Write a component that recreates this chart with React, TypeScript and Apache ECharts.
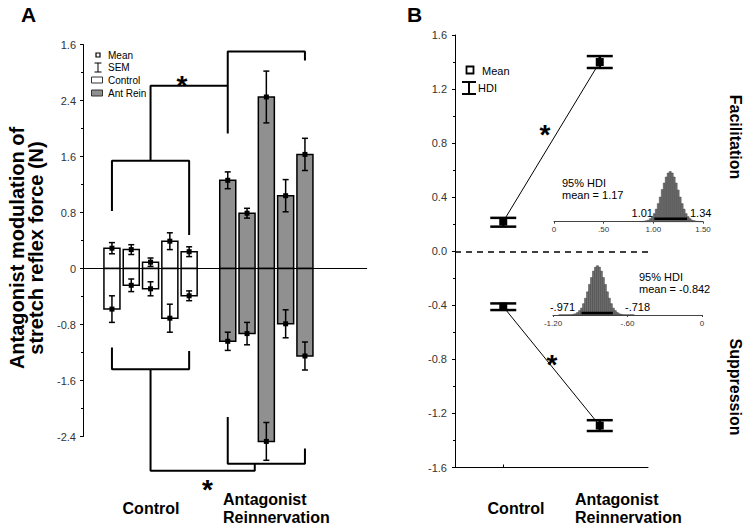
import React, { useEffect, useRef } from 'react';
import * as echarts from 'echarts';

// ---------- Panel A data ----------
const panelATickLabels = ['-2.4', '-1.6', '-0.8', '0', '0.8', '1.6', '2.4', '1.6'];
const controlX = [0, 1, 2, 3, 4];
const antX = [6, 7, 8, 9, 10];
const controlFac = [0.29, 0.27, 0.09, 0.39, 0.24];
const controlFacSem = [0.08, 0.07, 0.06, 0.12, 0.07];
const controlSup = [-0.58, -0.24, -0.29, -0.71, -0.39];
const controlSupSem = [0.19, 0.09, 0.1, 0.2, 0.07];
const antFac = [1.26, 0.79, 2.45, 1.04, 1.63];
const antFacSem = [0.12, 0.07, 0.37, 0.23, 0.23];
const antSup = [-1.04, -0.93, -2.47, -0.79, -1.25];
const antSupSem = [0.13, 0.16, 0.27, 0.2, 0.2];

// significance brackets (data coordinates)
const bracketCtrlTop = [[0, 0.82], [0, 1.54], [4, 1.54], [4, 0.48]];
const bracketStemTop = [[2, 1.54], [2, 2.61], [6, 2.61]];
const bracketAntTop = [[6, 1.93], [6, 3.1], [10, 3.1], [10, 2.97]];
const bracketCtrlBot = [[0, -1.13], [0, -1.44], [4, -1.44], [4, -1.18]];
const bracketStemBot = [[2, -1.44], [2, -2.89], [7.4, -2.89], [7.4, -2.79]];
const bracketAntBot = [[6, -2.12], [6, -2.79], [10, -2.79], [10, -2.57]];

// ---------- Panel B data ----------
const groupsB = ['Control', 'Antagonist Reinnervation'];
const facMean = [0.22, 1.4];
const facLow = [0.182, 1.356];
const facHigh = [0.247, 1.444];
const supMean = [-0.41, -1.29];
const supLow = [-0.435, -1.33];
const supHigh = [-0.386, -1.25];

// ---------- Inset posterior histograms ----------
const facBinCenters = [0.87, 0.89, 0.91, 0.93, 0.95, 0.97, 0.99, 1.01, 1.03, 1.05, 1.07, 1.09, 1.11, 1.13, 1.15, 1.17,
  1.19, 1.21, 1.23, 1.25, 1.27, 1.29, 1.31, 1.33, 1.35, 1.37, 1.39, 1.41, 1.43, 1.45, 1.47, 1.49];
const facBinHeights = [0.5, 0.6, 1, 2, 3, 6, 10, 16, 25, 36, 49, 64, 77, 89, 97, 100,
  97, 89, 77, 63, 49, 36, 25, 16, 10, 6, 3, 2, 1, 0.6, 0.5, 0.4];
const facHdi = [1.01, 1.34];
const facTicks: Record<string, string> = { '0': '0', '0.5': '.50', '1': '1.00', '1.5': '1.50' };

const supBinCenters = [-1.146, -1.13, -1.114, -1.098, -1.082, -1.066, -1.05, -1.034, -1.018, -1.002, -0.986, -0.97,
  -0.954, -0.938, -0.922, -0.906, -0.89, -0.874, -0.858, -0.842, -0.826, -0.81, -0.794, -0.778, -0.762, -0.746,
  -0.73, -0.714, -0.698, -0.682, -0.666, -0.65, -0.634, -0.618, -0.602, -0.586, -0.57, -0.554];
const supBinHeights = [0.4, 0.4, 0.4, 0.4, 0.4, 0.4, 0.6, 1.3, 2.5, 5, 9, 14, 23, 34, 47, 62, 76, 89, 97, 100,
  97, 89, 76, 62, 47, 34, 23, 14, 9, 5, 2.5, 1.3, 0.6, 0.4, 0.4, 0.4, 0.4, 0.4];
const supHdi = [-0.971, -0.718];
const supTicks: Record<string, string> = { '-1.2': '-1.20', '-0.6': '-.60', '0': '0' };

const FONT = '"Liberation Sans", Arial, Helvetica, sans-serif';

function txt(text: string, x: number, y: number, font: string, align = 'left', extra: any = {}) {
  return {
    type: 'text',
    x,
    y,
    z: 100,
    ...extra,
    style: {
      text,
      font,
      fill: '#000',
      textAlign: align,
      align,
      textVerticalAlign: 'middle',
      verticalAlign: 'middle',
      ...(extra.style || {}),
    },
  };
}

function buildOption() {
  const barRender = (fill: string) => (params: any, api: any) => {
    const x = api.value(0);
    const v = api.value(1);
    const s = api.value(2);
    const base = api.coord([x, 0]);
    const top = api.coord([x, v]);
    const w = api.size([0.83, 0])[0];
    const hi = api.coord([x, v + s]);
    const lo = api.coord([x, v - s]);
    const cap = 3;
    const line = (x1: number, y1: number, x2: number, y2: number) => ({
      type: 'line',
      shape: { x1, y1, x2, y2 },
      style: { stroke: '#000', lineWidth: 1.5 },
    });
    return {
      type: 'group',
      children: [
        {
          type: 'rect',
          shape: { x: base[0] - w / 2, y: Math.min(base[1], top[1]), width: w, height: Math.abs(base[1] - top[1]) },
          style: { fill, stroke: '#000', lineWidth: 1.5 },
        },
        line(top[0], hi[1], top[0], lo[1]),
        line(top[0] - cap, hi[1], top[0] + cap, hi[1]),
        line(top[0] - cap, lo[1], top[0] + cap, lo[1]),
        { type: 'rect', shape: { x: top[0] - 2.5, y: top[1] - 2.5, width: 5, height: 5 }, style: { fill: '#000' } },
      ],
    };
  };

  const barSeries = (xs: number[], vals: number[], sems: number[], fill: string) => ({
    type: 'custom',
    xAxisIndex: 0,
    yAxisIndex: 0,
    clip: false,
    encode: { x: 0, y: 1 },
    renderItem: barRender(fill),
    data: vals.map((v, i) => [xs[i], v, sems[i]]),
    z: 3,
  });

  const bracket = (pts: number[][]) => ({
    type: 'line',
    xAxisIndex: 0,
    yAxisIndex: 0,
    clip: false,
    symbol: 'none',
    silent: true,
    lineStyle: { color: '#000', width: 2 },
    data: pts,
    z: 4,
  });

  const hdiRender = (params: any, api: any) => {
    const i = api.value(0);
    const c = api.coord([i, api.value(1)]);
    const lo = api.coord([i, api.value(2)]);
    const hi = api.coord([i, api.value(3)]);
    const half = 13;
    const st = { stroke: '#000', lineWidth: 2.5 };
    return {
      type: 'group',
      children: [
        { type: 'line', shape: { x1: c[0], y1: lo[1], x2: c[0], y2: hi[1] }, style: st },
        { type: 'line', shape: { x1: c[0] - half, y1: lo[1], x2: c[0] + half, y2: lo[1] }, style: st },
        { type: 'line', shape: { x1: c[0] - half, y1: hi[1], x2: c[0] + half, y2: hi[1] }, style: st },
      ],
    };
  };

  const histRender = (bw: number) => (params: any, api: any) => {
    const c = api.value(0);
    const h = api.value(1);
    const p0 = api.coord([c - bw / 2, 0]);
    const p1 = api.coord([c + bw / 2, h]);
    return {
      type: 'rect',
      shape: { x: p0[0], y: p1[1], width: p1[0] - p0[0], height: p0[1] - p1[1] },
      style: { fill: '#707070', stroke: '#3c3c3c', lineWidth: 0.5 },
    };
  };

  const tickLabelStyle = { fontFamily: FONT, fontSize: 11, color: '#333' };
  const insetLabelStyle = { fontFamily: FONT, fontSize: 8, color: '#333', margin: 4 };

  const graphic: any[] = [
    // panel letters
    txt('A', 28.5, 14.5, `bold 21px ${FONT}`, 'center'),
    txt('B', 414.5, 14.5, `bold 21px ${FONT}`, 'center'),
    // y title panel A
    txt('Antagonist modulation of\nstretch reflex force (N)', 26, 248, `bold 20px ${FONT}`, 'center', {
      rotation: Math.PI / 2,
      style: { lineHeight: 19 },
    }),
    // category labels A
    txt('Control', 151, 508, `bold 16px ${FONT}`, 'center'),
    txt('Antagonist\nReinnervation', 223, 508, `bold 16px ${FONT}`, 'left', { style: { lineHeight: 18 } }),
    // category labels B
    txt('Control', 516, 508, `bold 16px ${FONT}`, 'center'),
    txt('Antagonist\nReinnervation', 575, 508, `bold 16px ${FONT}`, 'left', { style: { lineHeight: 18 } }),
    // right side labels
    txt('Facilitation', 735, 137, `bold 16px ${FONT}`, 'center', { rotation: -Math.PI / 2 }),
    txt('Suppression', 735, 387, `bold 16px ${FONT}`, 'center', { rotation: -Math.PI / 2 }),
    // stars
    txt('*', 182, 85, `bold 28px ${FONT}`, 'center'),
    txt('*', 207.5, 489, `bold 28px ${FONT}`, 'center'),
    txt('*', 545, 134, `bold 28px ${FONT}`, 'center'),
    txt('*', 552, 364, `bold 28px ${FONT}`, 'center'),
    // legend A
    { type: 'rect', z: 100, shape: { x: 96, y: 53, width: 4, height: 4 }, style: { fill: '#fff', stroke: '#000', lineWidth: 1.2 } },
    { type: 'line', z: 100, shape: { x1: 98, y1: 63, x2: 98, y2: 72 }, style: { stroke: '#000', lineWidth: 1 } },
    { type: 'line', z: 100, shape: { x1: 94.5, y1: 63, x2: 101.5, y2: 63 }, style: { stroke: '#000', lineWidth: 1 } },
    { type: 'line', z: 100, shape: { x1: 94.5, y1: 72, x2: 101.5, y2: 72 }, style: { stroke: '#000', lineWidth: 1 } },
    { type: 'rect', z: 100, shape: { x: 91.5, y: 77, width: 11, height: 6 }, style: { fill: '#fff', stroke: '#333', lineWidth: 1 } },
    { type: 'rect', z: 100, shape: { x: 91.5, y: 90, width: 11, height: 6 }, style: { fill: '#909090', stroke: '#333', lineWidth: 1 } },
    txt('Mean', 108, 55, `10px ${FONT}`),
    txt('SEM', 108, 67.5, `10px ${FONT}`),
    txt('Control', 108, 80, `10px ${FONT}`),
    txt('Ant Rein', 108, 93, `10px ${FONT}`),
    // legend B
    { type: 'rect', z: 100, shape: { x: 466.5, y: 66.5, width: 7, height: 7 }, style: { fill: '#fff', stroke: '#000', lineWidth: 1.8 } },
    { type: 'line', z: 100, shape: { x1: 469, y1: 82, x2: 469, y2: 94 }, style: { stroke: '#000', lineWidth: 2 } },
    { type: 'line', z: 100, shape: { x1: 462, y1: 82, x2: 476, y2: 82 }, style: { stroke: '#000', lineWidth: 2 } },
    { type: 'line', z: 100, shape: { x1: 462, y1: 94, x2: 476, y2: 94 }, style: { stroke: '#000', lineWidth: 2 } },
    txt('Mean', 482, 70.5, `11px ${FONT}`),
    txt('HDI', 478, 88, `11px ${FONT}`),
    // inset texts
    txt('95% HDI', 562, 182.7, `11px ${FONT}`),
    txt('mean = 1.17', 562, 194.5, `11px ${FONT}`),
    txt('1.01', 653, 212.5, `11px ${FONT}`, 'right'),
    txt('1.34', 690, 212.5, `11px ${FONT}`),
    txt('95% HDI', 639, 277, `11px ${FONT}`),
    txt('mean = -0.842', 639, 289, `11px ${FONT}`),
    txt('-.971', 575, 307, `11px ${FONT}`, 'right'),
    txt('-.718', 625, 307, `11px ${FONT}`),
  ];

  return {
    animation: false,
    backgroundColor: '#fff',
    textStyle: { fontFamily: FONT },
    grid: [
      { left: 83, top: 44.5, width: 283.7, height: 392 },
      { left: 455, top: 35, width: 193, height: 432.5 },
      { left: 554, top: 166, width: 149, height: 55.7 },
      { left: 553, top: 263, width: 149, height: 52 },
    ],
    xAxis: [
      {
        gridIndex: 0,
        type: 'value',
        min: -1.5,
        max: 13.2,
        axisLine: { show: true, onZero: true, lineStyle: { color: '#000', width: 1 } },
        axisTick: { show: false },
        axisLabel: { show: false },
        splitLine: { show: false },
      },
      {
        gridIndex: 1,
        type: 'category',
        data: groupsB,
        boundaryGap: true,
        axisLine: { show: true, onZero: false, lineStyle: { color: '#000', width: 1 } },
        axisTick: { show: true, inside: true, length: 3, alignWithLabel: true, lineStyle: { color: '#000' } },
        axisLabel: { show: false },
        splitLine: { show: false },
      },
      {
        gridIndex: 2,
        type: 'value',
        min: 0,
        max: 1.5,
        interval: 0.5,
        axisLine: { show: true, onZero: false, lineStyle: { color: '#444', width: 1 } },
        axisTick: { show: true, length: 2, lineStyle: { color: '#444' } },
        axisLabel: { ...insetLabelStyle, formatter: (v: number) => facTicks[String(Math.round(v * 10) / 10)] ?? '' },
        splitLine: { show: false },
      },
      {
        gridIndex: 3,
        type: 'value',
        min: -1.2,
        max: 0,
        interval: 0.6,
        axisLine: { show: true, onZero: false, lineStyle: { color: '#444', width: 1 } },
        axisTick: { show: true, length: 2, lineStyle: { color: '#444' } },
        axisLabel: { ...insetLabelStyle, formatter: (v: number) => supTicks[String(Math.round(v * 10) / 10)] ?? '' },
        splitLine: { show: false },
      },
    ],
    yAxis: [
      {
        gridIndex: 0,
        type: 'value',
        min: -2.4,
        max: 3.2,
        interval: 0.8,
        axisLine: { show: true, onZero: false, lineStyle: { color: '#000', width: 1 } },
        axisTick: { show: true, length: 3, lineStyle: { color: '#000' } },
        minorTick: { show: true, splitNumber: 2, length: 2, lineStyle: { color: '#000' } },
        axisLabel: {
          ...tickLabelStyle,
          margin: 7,
          formatter: (v: number) => panelATickLabels[Math.round((v + 2.4) / 0.8)] ?? '',
        },
        splitLine: { show: false },
      },
      {
        gridIndex: 1,
        type: 'value',
        min: -1.6,
        max: 1.6,
        interval: 0.4,
        axisLine: { show: true, onZero: false, lineStyle: { color: '#000', width: 1 } },
        axisTick: { show: true, length: 3, lineStyle: { color: '#000' } },
        minorTick: { show: true, splitNumber: 2, length: 2, lineStyle: { color: '#000' } },
        axisLabel: {
          ...tickLabelStyle,
          margin: 8,
          formatter: (v: number) => (Math.abs(v) < 1e-9 ? 0 : v).toFixed(1),
        },
        splitLine: { show: false },
      },
      { gridIndex: 2, type: 'value', min: 0, max: 111, show: false, splitLine: { show: false } },
      { gridIndex: 3, type: 'value', min: 0, max: 105.5, show: false, splitLine: { show: false } },
    ],
    series: [
      barSeries(controlX, controlFac, controlFacSem, '#ffffff'),
      barSeries(controlX, controlSup, controlSupSem, '#ffffff'),
      barSeries(antX, antFac, antFacSem, '#909090'),
      barSeries(antX, antSup, antSupSem, '#909090'),
      bracket(bracketCtrlTop),
      bracket(bracketStemTop),
      bracket(bracketAntTop),
      bracket(bracketCtrlBot),
      bracket(bracketStemBot),
      bracket(bracketAntBot),
      // panel B HDI bars
      {
        type: 'custom',
        xAxisIndex: 1,
        yAxisIndex: 1,
        encode: { x: 0, y: 1 },
        renderItem: hdiRender,
        data: facMean.map((m, i) => [i, m, facLow[i], facHigh[i]]),
        z: 3,
      },
      {
        type: 'custom',
        xAxisIndex: 1,
        yAxisIndex: 1,
        encode: { x: 0, y: 1 },
        renderItem: hdiRender,
        data: supMean.map((m, i) => [i, m, supLow[i], supHigh[i]]),
        z: 3,
      },
      {
        type: 'line',
        xAxisIndex: 1,
        yAxisIndex: 1,
        data: facMean,
        symbol: 'rect',
        symbolSize: 8,
        itemStyle: { color: '#000' },
        lineStyle: { color: '#000', width: 1 },
        z: 4,
        markLine: {
          silent: true,
          symbol: ['none', 'none'],
          label: { show: false },
          lineStyle: { color: '#000', type: [6, 5], width: 1.5 },
          data: [{ yAxis: 0 }],
        },
      },
      {
        type: 'line',
        xAxisIndex: 1,
        yAxisIndex: 1,
        data: supMean,
        symbol: 'rect',
        symbolSize: 8,
        itemStyle: { color: '#000' },
        lineStyle: { color: '#000', width: 1 },
        z: 4,
      },
      // insets
      {
        type: 'custom',
        xAxisIndex: 2,
        yAxisIndex: 2,
        encode: { x: 0, y: 1 },
        renderItem: histRender(0.02),
        data: facBinCenters.map((c, i) => [c, facBinHeights[i]]),
      },
      {
        type: 'line',
        xAxisIndex: 2,
        yAxisIndex: 2,
        symbol: 'none',
        lineStyle: { color: '#000', width: 2.5 },
        data: facHdi.map((v) => [v, 6]),
        z: 5,
      },
      {
        type: 'custom',
        xAxisIndex: 3,
        yAxisIndex: 3,
        encode: { x: 0, y: 1 },
        renderItem: histRender(0.016),
        data: supBinCenters.map((c, i) => [c, supBinHeights[i]]),
      },
      {
        type: 'line',
        xAxisIndex: 3,
        yAxisIndex: 3,
        symbol: 'none',
        lineStyle: { color: '#000', width: 2.5 },
        data: supHdi.map((v) => [v, 4]),
        z: 5,
      },
    ],
    graphic,
  };
}

export default function App() {
  const ref = useRef<HTMLDivElement>(null);
  useEffect(() => {
    document.body.style.margin = '0';
    const chart = echarts.init(ref.current!, null, { renderer: 'svg' });
    chart.setOption(buildOption() as any);
    return () => chart.dispose();
  }, []);
  return (
    <div
      ref={ref}
      style={{ position: 'absolute', left: 0, top: 0, width: 747, height: 529, background: '#fff' }}
    />
  );
}
